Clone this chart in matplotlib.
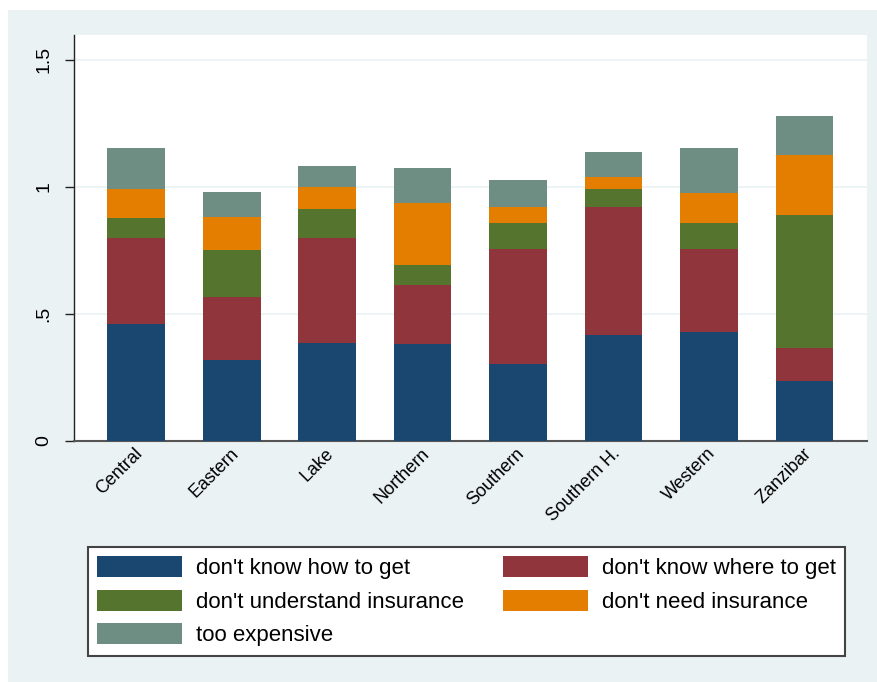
"""Stacked bars: reasons for not having insurance, by zone"""

import matplotlib
matplotlib.use('Agg')
import matplotlib.pyplot as plt
import matplotlib.transforms as mtransforms
import numpy as np
from matplotlib.patches import Rectangle

plt.rcParams['font.family'] = ['Liberation Sans', 'DejaVu Sans']

zones = ['Central', 'Eastern', 'Lake', 'Northern', 'Southern', 'Southern H.', 'Western', 'Zanzibar']
how_to_get = [0.461, 0.318, 0.385, 0.382, 0.303, 0.415, 0.429, 0.236]
where_to_get = [0.338, 0.249, 0.412, 0.232, 0.452, 0.505, 0.326, 0.128]
not_understand = [0.079, 0.185, 0.115, 0.079, 0.103, 0.072, 0.103, 0.524]
not_need = [0.113, 0.130, 0.088, 0.243, 0.062, 0.046, 0.117, 0.238]
too_expensive = [0.160, 0.097, 0.081, 0.136, 0.105, 0.097, 0.179, 0.151]

series = [
    ("don't know how to get", how_to_get, '#1a476f'),
    ("don't know where to get", where_to_get, '#90353b'),
    ("don't understand insurance", not_understand, '#55752f'),
    ("don't need insurance", not_need, '#e37e00'),
    ('too expensive', too_expensive, '#6e8e84'),
]

BG = '#eaf2f3'
W, H = 877, 682

fig = plt.figure(figsize=(W / 100, H / 100), dpi=100, facecolor='white')
# светлая подложка графика (как у Stata s2color)
fig.patches.append(Rectangle((8 / W, 0), 1 - 8 / W, 1 - 10 / H, transform=fig.transFigure,
                             facecolor=BG, edgecolor='none', zorder=-10))

ax = fig.add_axes([73.7 / W, 1 - 440.7 / H, (867 - 73.7) / W, (440.7 - 35) / H])
ax.set_facecolor('white')

x = np.arange(1, len(zones) + 1)
bottom = np.zeros(len(zones))
handles = []
for name, vals, color in series:
    bars = ax.bar(x, vals, 0.604, bottom=bottom, color=color, label=name, zorder=3,
                  edgecolor='none')
    bottom += np.array(vals)
    handles.append(bars)

ax.set_xlim(0.345, 8.655)
ax.set_ylim(0, 1.597)
ax.set_yticks([0, 0.5, 1, 1.5])
ax.set_yticklabels(['0', '.5', '1', '1.5'], rotation=90, va='center', fontsize=14)
ax.set_xticks(x)
ax.set_xticklabels([])
# подписи зон под углом 45 градусов, чуть правее центра столбика
offset = mtransforms.ScaledTranslation(4 / 100, -10.5 / 100, fig.dpi_scale_trans)
for xi, zone in zip(x, zones):
    ax.text(xi, 0, zone, transform=ax.get_xaxis_transform() + offset,
            rotation=45, ha='right', va='center', rotation_mode='anchor', fontsize=13)
ax.tick_params(axis='x', length=0)
ax.tick_params(axis='y', length=6.5, width=1, pad=9, color='#222222')
ax.grid(True, axis='y', color=BG, lw=1.2, zorder=0)

ax.spines['top'].set_visible(False)
ax.spines['right'].set_color(BG)
ax.spines['left'].set_color('#222222')
ax.spines['left'].set_linewidth(1)
ax.spines['bottom'].set_color('#555555')
ax.spines['bottom'].set_linewidth(1.5)

# порядок как в легенде Stata: по строкам
order = [0, 2, 4, 1, 3]
leg = fig.legend([handles[i] for i in order], [series[i][0] for i in order],
                 ncol=2, loc='upper left', bbox_to_anchor=(88 / W, 1 - 547 / H),
                 fontsize=16, frameon=True, fancybox=False, framealpha=1,
                 edgecolor='#444444', facecolor='white',
                 handlelength=3.83, handleheight=1.08, handletextpad=0.62,
                 labelspacing=0.47, borderpad=0.42, borderaxespad=0, columnspacing=1.75)
leg.get_frame().set_linewidth(1.5)

fig.savefig('out.png', dpi=100, facecolor='white')
